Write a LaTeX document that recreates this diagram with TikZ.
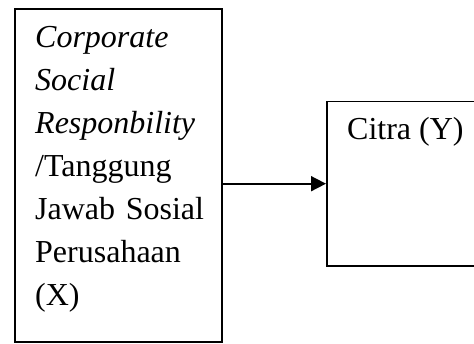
\documentclass[tikz,border=0pt]{standalone}
\usepackage{fontspec}
\setmainfont{Liberation Serif}
\usetikzlibrary{arrows.meta}
\tikzset{
  frame/.style={draw=black, line width=1.7pt, inner sep=0pt},
  label/.style={inner sep=0pt, font=\fontsize{32}{43}\selectfont},
  conn/.style={line width=1.7pt, -{Triangle[length=15pt,width=15pt]}}
}
\begin{document}
\begin{tikzpicture}[x=1pt,y=-1pt]
\useasboundingbox (0,0) rectangle (474,344);
\clip (0,0) rectangle (474,344);
\node[frame, anchor=north west, minimum width=207pt, minimum height=333.5pt] (xbox) at (14,8) {};
\node[frame, anchor=north west, minimum width=170pt, minimum height=164.3pt] (ybox) at (326,100.7) {};
\node[label, anchor=base west, text width=185pt, align=left] (xtext) at (35,47.3)
  {\textit{Corporate}\\ \textit{Social}\\ \textit{Responbility}\\ /Tanggung\\ Jawab Sosial\\ Perusahaan\\ (X)};
\node[label, anchor=base west] (ytext) at (347,139.3) {Citra (Y)};
\draw[conn] (xbox.east |- ybox.west) -- (ybox.west);
\end{tikzpicture}
\end{document}
